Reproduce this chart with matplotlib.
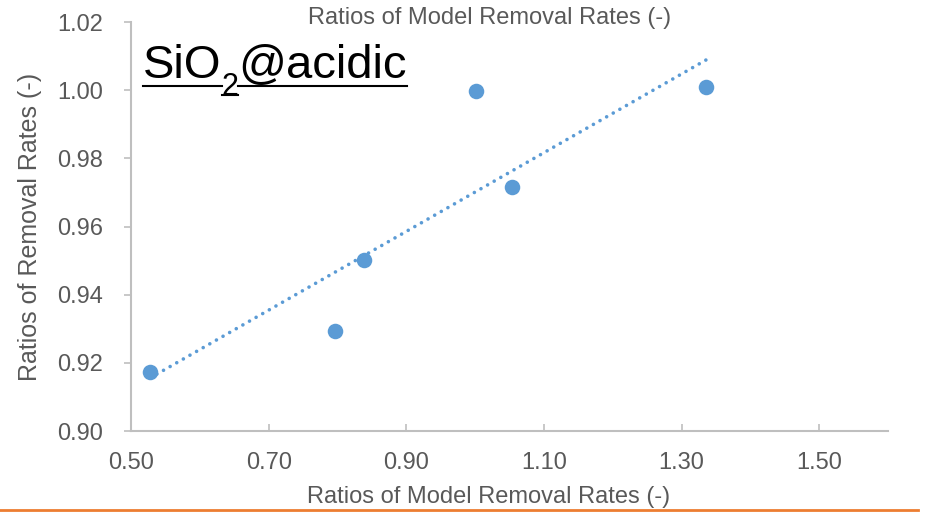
import numpy as np
import matplotlib
matplotlib.use("Agg")
import matplotlib.pyplot as plt
from matplotlib.lines import Line2D

plt.rcParams['font.family'] = ['Liberation Sans', 'DejaVu Sans']

# Data
model_ratio = [0.528, 0.796, 0.839, 1.001, 1.054, 1.336]
removal_ratio = [0.9173, 0.9293, 0.9502, 0.9998, 0.9716, 1.0009]
x_ticks = [0.50, 0.70, 0.90, 1.10, 1.30, 1.50]
y_ticks = [0.90, 0.92, 0.94, 0.96, 0.98, 1.00, 1.02]
x_title = "Ratios of Model Removal Rates (-)"
y_title = "Ratios of Removal Rates (-)"
label_parts = ["SiO", "2", "@acidic"]

W, H = 926, 512
fig = plt.figure(figsize=(W / 100, H / 100), dpi=100)
ax = fig.add_axes([131 / W, 1 - 431 / H, (888 - 131) / W, (431 - 22) / H])

blue = '#5B9BD5'
gray = '#595959'
axc = '#BFBFBF'

ax.scatter(model_ratio, removal_ratio, s=125, color=blue, zorder=3, linewidths=0)

# linear trendline
coef = np.polyfit(model_ratio, removal_ratio, 1)
xs = np.array([min(model_ratio), max(model_ratio)])
ax.plot(xs, np.polyval(coef, xs), color=blue, lw=2.6,
        linestyle=(0, (0.01, 2.1)), dash_capstyle='round', zorder=2)

ax.set_xlim(0.5, 1.6)
ax.set_ylim(0.90, 1.02)
ax.set_xticks(x_ticks)
ax.set_yticks(y_ticks)
ax.set_xticklabels([f"{v:.2f}" for v in x_ticks])
ax.set_yticklabels([f"{v:.2f}" for v in y_ticks])

for s in ['top', 'right']:
    ax.spines[s].set_visible(False)
for s in ['left', 'bottom']:
    ax.spines[s].set_color(axc)
    ax.spines[s].set_linewidth(1.5)

ax.tick_params(axis='y', direction='out', length=5, width=1.2, color=axc,
               labelsize=17, labelcolor=gray, pad=15)
ax.tick_params(axis='x', direction='in', length=5, width=1.2, color=axc,
               labelsize=17, labelcolor=gray, pad=15)

ax.set_ylabel(y_title, fontsize=18, color=gray)
ax.yaxis.set_label_coords((30 - 131) / (888 - 131), 0.5)
ax.yaxis.label.set_va('center')

fig.text(490 / W, 1 - 18 / H, x_title, ha='center', va='center',
         fontsize=17, color=gray)
fig.text(489 / W, 1 - 497 / H, x_title, ha='center', va='center',
         fontsize=17, color=gray)

# "SiO2@acidic" with real subscript and underline
fig.canvas.draw()
r = fig.canvas.get_renderer()
x0 = 143
base = 78
sizes = [34, 22, 34]
bases = [base, base + 17, base]
ulines = [86, 95, 86]
for part, fs, b, ul in zip(label_parts, sizes, bases, ulines):
    t = fig.text(x0 / W, 1 - b / H, part, ha='left', va='baseline',
                 fontsize=fs, color='black')
    bb = t.get_window_extent(renderer=r)
    fig.add_artist(Line2D([bb.x0 / W, bb.x1 / W], [1 - ul / H, 1 - ul / H],
                          color='black', lw=1.5, transform=fig.transFigure))
    x0 = bb.x1

fig.add_artist(Line2D([0, 918 / W], [1 - 510 / H, 1 - 510 / H],
                      color='#ED7D31', lw=2, transform=fig.transFigure))

fig.savefig('out.png', dpi=100)
